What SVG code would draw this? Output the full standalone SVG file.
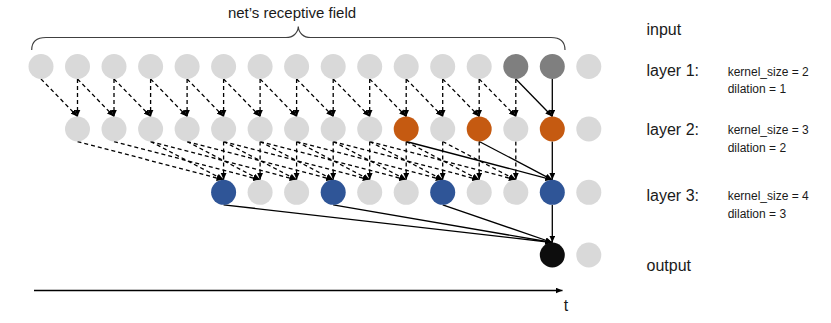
<svg xmlns="http://www.w3.org/2000/svg" width="831" height="323" viewBox="0 0 831 323">
<style>
.g{fill:#d9d9d9}
.d{fill:#7f7f7f}
.o{fill:#c55a11}
.b{fill:#2f5597}
.k{fill:#0d0d0d}
.e{stroke:#000;stroke-width:1.3;fill:none;marker-end:url(#ah)}
.ds{stroke-dasharray:4 3}
.t{font-family:"Liberation Sans",Arial,sans-serif;fill:#1a1a1a}
.lb{font-size:16px}
.sm{font-size:12px}
</style>
<defs>
<marker id="ah" markerUnits="userSpaceOnUse" markerWidth="8" markerHeight="7" refX="7" refY="3" orient="auto">
<path d="M0,0 L7,3 L0,6 z" fill="#000"/>
</marker>
</defs>

<g id="brace">
<path d="M31.7,50 C31.7,42 36,37.5 46,37.5 L286,37.5 C293,37.5 298,33 298.3,26.5 C298.6,33 303.6,37.5 310.6,37.5 L551,37.5 C561,37.5 565,42 565,50" fill="none" stroke="#404040" stroke-width="1.2"/>
<text class="t" x="292" y="18" font-size="15" text-anchor="middle">net’s receptive field</text>
</g>

<g id="connectors">
<!-- layer 1: kernel 2, dilation 1 -->
<line class="e ds" x1="41" y1="79" x2="77.5" y2="116.5"/><line class="e ds" x1="77.5" y1="79" x2="77.5" y2="116.5"/>
<line class="e ds" x1="77.5" y1="79" x2="114" y2="116.5"/><line class="e ds" x1="114" y1="79" x2="114" y2="116.5"/>
<line class="e ds" x1="114" y1="79" x2="150.6" y2="116.5"/><line class="e ds" x1="150.6" y1="79" x2="150.6" y2="116.5"/>
<line class="e ds" x1="150.6" y1="79" x2="187.1" y2="116.5"/><line class="e ds" x1="187.1" y1="79" x2="187.1" y2="116.5"/>
<line class="e ds" x1="187.1" y1="79" x2="223.6" y2="116.5"/><line class="e ds" x1="223.6" y1="79" x2="223.6" y2="116.5"/>
<line class="e ds" x1="223.6" y1="79" x2="260.1" y2="116.5"/><line class="e ds" x1="260.1" y1="79" x2="260.1" y2="116.5"/>
<line class="e ds" x1="260.1" y1="79" x2="296.6" y2="116.5"/><line class="e ds" x1="296.6" y1="79" x2="296.6" y2="116.5"/>
<line class="e ds" x1="296.6" y1="79" x2="333.2" y2="116.5"/><line class="e ds" x1="333.2" y1="79" x2="333.2" y2="116.5"/>
<line class="e ds" x1="333.2" y1="79" x2="369.7" y2="116.5"/><line class="e ds" x1="369.7" y1="79" x2="369.7" y2="116.5"/>
<line class="e ds" x1="369.7" y1="79" x2="406.2" y2="116.5"/><line class="e ds" x1="406.2" y1="79" x2="406.2" y2="116.5"/>
<line class="e ds" x1="406.2" y1="79" x2="442.7" y2="116.5"/><line class="e ds" x1="442.7" y1="79" x2="442.7" y2="116.5"/>
<line class="e ds" x1="442.7" y1="79" x2="479.2" y2="116.5"/><line class="e ds" x1="479.2" y1="79" x2="479.2" y2="116.5"/>
<line class="e ds" x1="479.2" y1="79" x2="515.8" y2="116.5"/><line class="e ds" x1="515.8" y1="79" x2="515.8" y2="116.5"/>
<line class="e" x1="515.8" y1="79" x2="552.3" y2="116.5"/><line class="e" x1="552.3" y1="79" x2="552.3" y2="116.5"/>

<!-- layer 2: kernel 3, dilation 2 -->
<line class="e ds" x1="77.5" y1="141.5" x2="223.6" y2="179.8"/><line class="e ds" x1="150.6" y1="141.5" x2="223.6" y2="179.8"/><line class="e ds" x1="223.6" y1="141.5" x2="223.6" y2="179.8"/>
<line class="e ds" x1="114" y1="141.5" x2="260.1" y2="179.8"/><line class="e ds" x1="187.1" y1="141.5" x2="260.1" y2="179.8"/><line class="e ds" x1="260.1" y1="141.5" x2="260.1" y2="179.8"/>
<line class="e ds" x1="150.6" y1="141.5" x2="296.6" y2="179.8"/><line class="e ds" x1="223.6" y1="141.5" x2="296.6" y2="179.8"/><line class="e ds" x1="296.6" y1="141.5" x2="296.6" y2="179.8"/>
<line class="e ds" x1="187.1" y1="141.5" x2="333.2" y2="179.8"/><line class="e ds" x1="260.1" y1="141.5" x2="333.2" y2="179.8"/><line class="e ds" x1="333.2" y1="141.5" x2="333.2" y2="179.8"/>
<line class="e ds" x1="223.6" y1="141.5" x2="369.7" y2="179.8"/><line class="e ds" x1="296.6" y1="141.5" x2="369.7" y2="179.8"/><line class="e ds" x1="369.7" y1="141.5" x2="369.7" y2="179.8"/>
<line class="e ds" x1="260.1" y1="141.5" x2="406.2" y2="179.8"/><line class="e ds" x1="333.2" y1="141.5" x2="406.2" y2="179.8"/><line class="e ds" x1="406.2" y1="141.5" x2="406.2" y2="179.8"/>
<line class="e ds" x1="296.6" y1="141.5" x2="442.7" y2="179.8"/><line class="e ds" x1="369.7" y1="141.5" x2="442.7" y2="179.8"/><line class="e ds" x1="442.7" y1="141.5" x2="442.7" y2="179.8"/>
<line class="e ds" x1="333.2" y1="141.5" x2="479.2" y2="179.8"/><line class="e ds" x1="406.2" y1="141.5" x2="479.2" y2="179.8"/><line class="e ds" x1="479.2" y1="141.5" x2="479.2" y2="179.8"/>
<line class="e ds" x1="369.7" y1="141.5" x2="515.8" y2="179.8"/><line class="e ds" x1="442.7" y1="141.5" x2="515.8" y2="179.8"/><line class="e ds" x1="515.8" y1="141.5" x2="515.8" y2="179.8"/>
<line class="e" x1="406.2" y1="141.5" x2="552.3" y2="179.8"/><line class="e" x1="479.2" y1="141.5" x2="552.3" y2="179.8"/><line class="e" x1="552.3" y1="141.5" x2="552.3" y2="179.8"/>

<!-- layer 3: kernel 4, dilation 3 -->
<line class="e" x1="223.6" y1="204.8" x2="552.3" y2="242.5"/>
<line class="e" x1="333.2" y1="204.8" x2="552.3" y2="242.5"/>
<line class="e" x1="442.7" y1="204.8" x2="552.3" y2="242.5"/>
<line class="e" x1="552.3" y1="204.8" x2="552.3" y2="242.5"/>

<!-- time axis -->
<line class="e" x1="34" y1="290.5" x2="562.5" y2="290.5" stroke-width="1.5"/>
</g>

<g id="input">
<circle class="g" cx="41" cy="66.5" r="12.5"/><circle class="g" cx="77.5" cy="66.5" r="12.5"/><circle class="g" cx="114" cy="66.5" r="12.5"/><circle class="g" cx="150.6" cy="66.5" r="12.5"/><circle class="g" cx="187.1" cy="66.5" r="12.5"/><circle class="g" cx="223.6" cy="66.5" r="12.5"/><circle class="g" cx="260.1" cy="66.5" r="12.5"/><circle class="g" cx="296.6" cy="66.5" r="12.5"/><circle class="g" cx="333.2" cy="66.5" r="12.5"/><circle class="g" cx="369.7" cy="66.5" r="12.5"/><circle class="g" cx="406.2" cy="66.5" r="12.5"/><circle class="g" cx="442.7" cy="66.5" r="12.5"/><circle class="g" cx="479.2" cy="66.5" r="12.5"/><circle class="d" cx="515.8" cy="66.5" r="12.5"/><circle class="d" cx="552.3" cy="66.5" r="12.5"/><circle class="g" cx="588.8" cy="66.5" r="12.5"/>
</g>

<g id="layer1">
<circle class="g" cx="77.5" cy="129" r="12.5"/><circle class="g" cx="114" cy="129" r="12.5"/><circle class="g" cx="150.6" cy="129" r="12.5"/><circle class="g" cx="187.1" cy="129" r="12.5"/><circle class="g" cx="223.6" cy="129" r="12.5"/><circle class="g" cx="260.1" cy="129" r="12.5"/><circle class="g" cx="296.6" cy="129" r="12.5"/><circle class="g" cx="333.2" cy="129" r="12.5"/><circle class="g" cx="369.7" cy="129" r="12.5"/><circle class="o" cx="406.2" cy="129" r="12.5"/><circle class="g" cx="442.7" cy="129" r="12.5"/><circle class="o" cx="479.2" cy="129" r="12.5"/><circle class="g" cx="515.8" cy="129" r="12.5"/><circle class="o" cx="552.3" cy="129" r="12.5"/><circle class="g" cx="588.8" cy="129" r="12.5"/>
</g>

<g id="layer2">
<circle class="b" cx="223.6" cy="192.3" r="12.5"/><circle class="g" cx="260.1" cy="192.3" r="12.5"/><circle class="g" cx="296.6" cy="192.3" r="12.5"/><circle class="b" cx="333.2" cy="192.3" r="12.5"/><circle class="g" cx="369.7" cy="192.3" r="12.5"/><circle class="g" cx="406.2" cy="192.3" r="12.5"/><circle class="b" cx="442.7" cy="192.3" r="12.5"/><circle class="g" cx="479.2" cy="192.3" r="12.5"/><circle class="g" cx="515.8" cy="192.3" r="12.5"/><circle class="b" cx="552.3" cy="192.3" r="12.5"/><circle class="g" cx="588.8" cy="192.3" r="12.5"/>
</g>

<g id="output">
<circle class="k" cx="552.3" cy="255" r="12.5"/><circle class="g" cx="588.8" cy="255" r="12.5"/>
</g>

<g id="labels">
<text class="t lb" x="646.5" y="35">input</text>
<text class="t lb" x="646.5" y="76">layer 1:</text>
<text class="t sm" x="727.7" y="75.7">kernel_size = 2</text>
<text class="t sm" x="727.7" y="93.3">dilation = 1</text>
<text class="t lb" x="646.5" y="134.5">layer 2:</text>
<text class="t sm" x="727.7" y="134.3">kernel_size = 3</text>
<text class="t sm" x="727.7" y="152.3">dilation = 2</text>
<text class="t lb" x="646.5" y="200.5">layer 3:</text>
<text class="t sm" x="727.7" y="200.3">kernel_size = 4</text>
<text class="t sm" x="727.7" y="218.3">dilation = 3</text>
<text class="t lb" x="646.5" y="270.5">output</text>
<text class="t lb" x="566" y="310.5" text-anchor="middle">t</text>
</g>
</svg>
